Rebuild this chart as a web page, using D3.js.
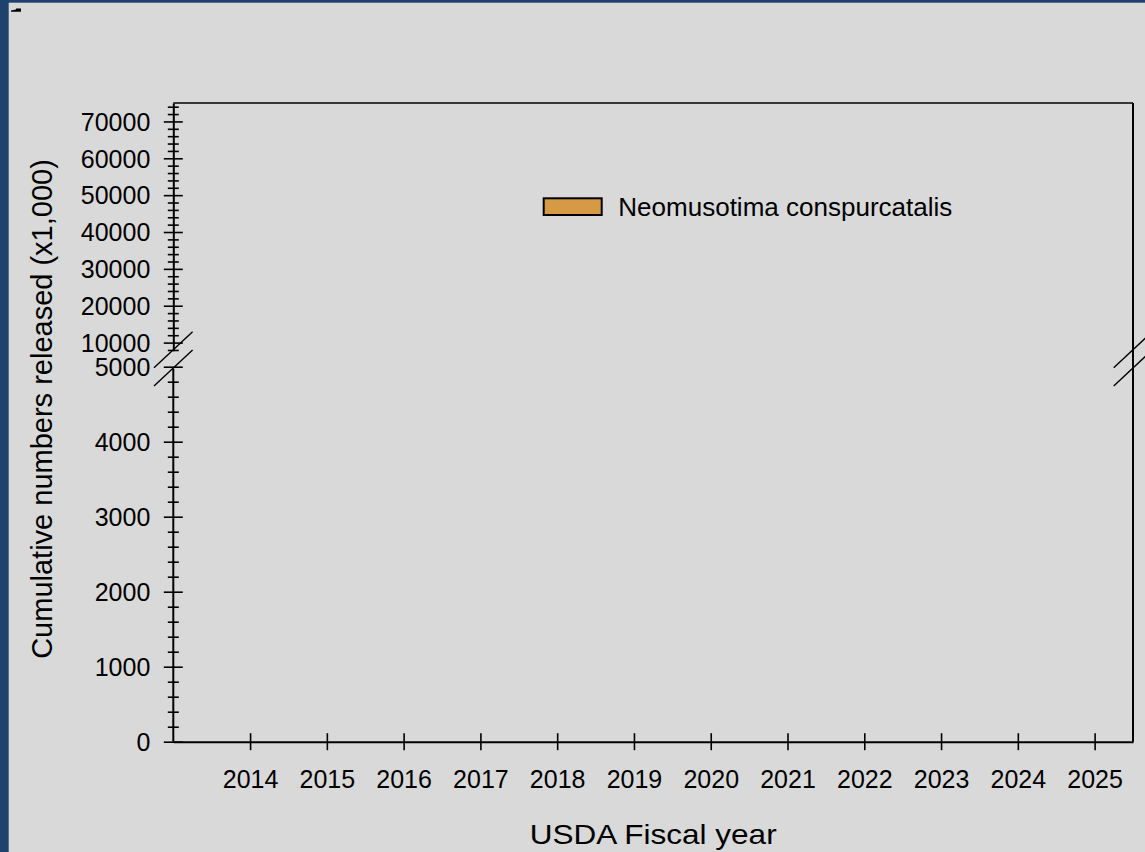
<!DOCTYPE html>
<html>
<head>
<meta charset="utf-8">
<script src="https://cdn.jsdelivr.net/npm/d3@7"></script>
<style>
  html, body { margin: 0; padding: 0; background: #d9d9d9; }
  svg { display: block; }
  text { font-family: "Liberation Sans", Arial, Helvetica, sans-serif; fill: #000; }
</style>
</head>
<body>
<svg id="chart" width="1145" height="852"></svg>
<script>
// ---------------- data ----------------
const years = [2014, 2015, 2016, 2017, 2018, 2019, 2020, 2021, 2022, 2023, 2024, 2025];
const seriesName = "Neomusotima conspurcatalis";
// no releases shown in the reference for any fiscal year
const seriesValues = [null, null, null, null, null, null, null, null, null, null, null, null];
const upperMajorTicks = [10000, 20000, 30000, 40000, 50000, 60000, 70000];
const lowerMajorTicks = [0, 1000, 2000, 3000, 4000, 5000];
const xTitle = "USDA Fiscal year";
const yTitle = "Cumulative numbers released (x1,000)";
const seriesColor = "#d69a45";

// ---------------- layout ----------------
const W = 1145, H = 852;
const svg = d3.select("#chart");

svg.append("rect").attr("width", W).attr("height", H).attr("fill", "#1e416e");
svg.append("rect").attr("x", 8.7).attr("y", 2.7).attr("width", W).attr("height", H).attr("fill", "#d9d9d9");
// small mark in the top-left corner
svg.append("path").attr("d", "M11,11.7 L11,10.4 L16,9.6 L16,8.4 L21,8.4 L21,11.7 Z").attr("fill", "#000");

const x = d3.scaleLinear().domain([2013, 2025.5]).range([173.3, 1133]);
const yLower = d3.scaleLinear().domain([0, 5000]).range([741.7, 366.7]);
const yUpper = d3.scaleLinear().domain([7800, 75000]).range([350.7, 103]);

const g = svg.append("g");

// bars (none have values)
years.forEach((yr, i) => {
  const v = seriesValues[i];
  if (v == null) return;
  const scale = v <= 5000 ? yLower : yUpper;
  g.append("rect")
    .attr("x", x(yr) - 20).attr("width", 40)
    .attr("y", scale(v)).attr("height", yLower(0) - scale(v))
    .attr("fill", seriesColor).attr("stroke", "#000");
});

// frame: top and right
g.append("line").attr("x1", x(2013)).attr("x2", x(2025.5))
  .attr("y1", yUpper(75000)).attr("y2", yUpper(75000))
  .attr("stroke", "#000").attr("stroke-width", 1.5);
g.append("line").attr("x1", x(2025.5)).attr("x2", x(2025.5))
  .attr("y1", yUpper(75000)).attr("y2", yLower(0))
  .attr("stroke", "#000").attr("stroke-width", 2);

function styleYAxis(sel, majors) {
  sel.select(".domain").attr("stroke", "#000").attr("stroke-width", 2);
  sel.selectAll(".tick line")
    .attr("stroke", "#000").attr("stroke-width", 1.6)
    .attr("x1", d => majors.includes(d) ? 9.5 : 5.5)
    .attr("x2", d => majors.includes(d) ? -9.5 : -5.5);
  sel.selectAll(".tick text")
    .attr("x", -23).attr("dy", "0.35em")
    .attr("font-size", 25)
    .attr("font-family", "Liberation Sans, Arial, sans-serif")
    .attr("fill", "#000");
}

// upper y-axis segment
const upperTicks = d3.range(8000, 75000, 2000);
const upperAxis = d3.axisLeft(yUpper).tickValues(upperTicks).tickSizeOuter(0)
  .tickFormat(d => upperMajorTicks.includes(d) ? String(d) : "");
const gu = g.append("g").attr("transform", `translate(${x(2013)},0)`).call(upperAxis);
styleYAxis(gu, upperMajorTicks);

// lower y-axis segment
const lowerTicks = d3.range(0, 5001, 200);
const lowerAxis = d3.axisLeft(yLower).tickValues(lowerTicks).tickSizeOuter(0)
  .tickFormat(d => lowerMajorTicks.includes(d) ? String(d) : "");
const gl = g.append("g").attr("transform", `translate(${x(2013)},0)`).call(lowerAxis);
styleYAxis(gl, lowerMajorTicks);
gl.select(".domain").attr("d", `M0,${yLower(0)}V${yLower(5000) + 2}`);

// x axis
const xAxis = d3.axisBottom(x).tickValues(years).tickFormat(d3.format("d")).tickSizeOuter(0);
const gx = g.append("g").attr("transform", `translate(0,${yLower(0)})`).call(xAxis);
gx.select(".domain").attr("stroke", "#000").attr("stroke-width", 2);
gx.selectAll(".tick line").attr("stroke", "#000").attr("stroke-width", 1.6)
  .attr("y1", -8.5).attr("y2", 8.5);
gx.selectAll(".tick text").attr("y", 46.5).attr("dy", "0")
  .attr("font-size", 25).attr("font-family", "Liberation Sans, Arial, sans-serif").attr("fill", "#000");

// axis break marks
function breakMarks(cx) {
  const ys = [yUpper.range()[0] - 1, yLower(5000) + 1.3];
  ys.forEach(cy => {
    g.append("line")
      .attr("x1", cx - 19.3).attr("y1", cy + 18)
      .attr("x2", cx + 19.3).attr("y2", cy - 18)
      .attr("stroke", "#000").attr("stroke-width", 1.4);
  });
}
breakMarks(x(2013));
breakMarks(x(2025.5));

// titles
svg.append("text")
  .attr("x", (x(2013) + x(2025.5)) / 2).attr("y", 844.3)
  .attr("text-anchor", "middle").attr("font-size", 28)
  .attr("textLength", 247).attr("lengthAdjust", "spacingAndGlyphs")
  .text(xTitle);
svg.append("text")
  .attr("transform", "translate(52,409) rotate(-90)")
  .attr("text-anchor", "middle").attr("font-size", 29)
  .text(yTitle);

// legend
const lg = svg.append("g");
lg.append("rect").attr("x", 543.7).attr("y", 198.3).attr("width", 58).attr("height", 16.7)
  .attr("fill", seriesColor).attr("stroke", "#000").attr("stroke-width", 2);
lg.append("text").attr("x", 618.3).attr("y", 215.7).attr("font-size", 25)
  .attr("textLength", 334).attr("lengthAdjust", "spacingAndGlyphs")
  .text(seriesName);
</script>
</body>
</html>
